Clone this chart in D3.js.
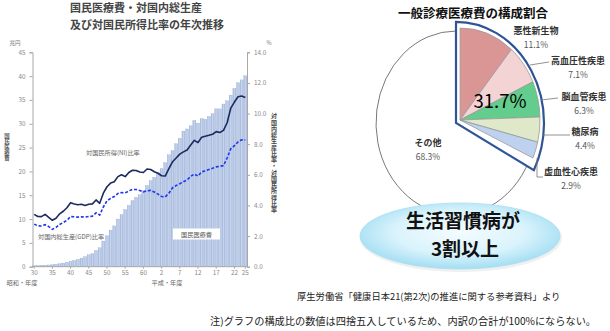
<!DOCTYPE html>
<html><head><meta charset="utf-8">
<script src="https://cdn.jsdelivr.net/npm/d3@7"></script>
<style>
body{margin:0;background:#fff}
svg{display:block}
text{font-family:"Noto Sans CJK JP","Noto Sans",sans-serif}
</style>
</head><body>
<svg id="c" width="610" height="331"></svg>
<script>
// ---------- left chart data ----------
const categories = ["S30","S31","S32","S33","S34","S35","S36","S37","S38","S39",
  "S40","S41","S42","S43","S44","S45","S46","S47","S48","S49",
  "S50","S51","S52","S53","S54","S55","S56","S57","S58","S59",
  "S60","S61","S62","S63",
  "H1","H2","H3","H4","H5","H6","H7","H8","H9","H10",
  "H11","H12","H13","H14","H15","H16","H17","H18","H19","H20",
  "H21","H22","H23","H24","H25"];
const expenditure = [0.24,0.26,0.29,0.32,0.36,0.41,0.51,0.61,0.75,0.94,
  1.12,1.31,1.52,1.80,2.08,2.50,2.73,3.39,3.96,5.38,
  6.48,7.68,8.56,10.00,10.95,11.98,12.88,13.87,14.54,15.09,
  16.02,17.07,18.08,18.76,
  19.73,20.61,21.83,23.48,24.36,25.79,26.96,28.45,28.91,29.58,
  30.70,30.14,31.10,30.95,31.54,32.11,33.13,33.13,34.14,34.81,
  36.01,37.42,38.59,39.21,40.06];
const ratioNI = [3.42,3.28,3.27,3.42,3.22,3.03,3.16,3.45,3.62,3.85,
  4.18,4.10,4.04,4.08,4.00,4.08,4.10,4.36,4.14,4.80,
  5.22,5.46,5.55,5.88,6.00,5.88,6.15,6.30,6.28,6.18,
  6.15,6.38,6.35,6.20,
  6.10,5.94,5.92,6.40,6.85,7.10,7.35,7.50,7.62,7.95,
  8.25,8.10,8.45,8.52,8.58,8.65,8.82,8.76,8.90,9.40,
  10.35,10.75,11.10,11.15,11.05];
const ratioGDP = [2.78,2.67,2.66,2.74,2.62,2.44,2.57,2.76,2.88,3.03,
  3.27,3.26,3.24,3.26,3.24,3.28,3.30,3.52,3.37,3.90,
  4.30,4.46,4.58,4.78,4.84,4.82,4.95,5.05,5.04,4.98,
  4.88,4.96,4.98,4.88,
  4.74,4.58,4.56,4.80,5.15,5.30,5.42,5.55,5.66,5.90,
  6.05,5.92,6.20,6.25,6.35,6.43,6.52,6.56,6.60,7.10,
  7.70,7.90,8.15,8.28,8.28];
const tickCats = ["S30","S35","S40","S45","S50","S55","S60","H2","H7","H12","H17","H22","H25"];
const tickText = ["30","35","40","45","50","55","60","2","7","12","17","22","25"];
const leftTicks = [0,5,10,15,20,25,30,35,40,45];
const rightTicks = [0,2,4,6,8,10,12,14];

// ---------- pie data ----------
const pieCats = ["悪性新生物","高血圧性疾患","脳血管疾患","糖尿病","虚血性心疾患","その他"];
const pieVals = [11.1,7.1,6.3,4.4,2.9,68.3];
const pieLabels = ["11.1%","7.1%","6.3%","4.4%","2.9%","68.3%"];
const pieColors = ["#d99695","#f3d3d4","#63cd8d","#dfe8c8","#bed1ee","#ffffff"];
const lifestyleShare = "31.7%";

const svg = d3.select("#c");
const defs = svg.append("defs");

// ================= LEFT CHART =================
const x = d3.scaleBand().domain(categories).range([32.5, 247]).paddingInner(0.18).paddingOuter(0.05);
const yL = d3.scaleLinear().domain([0,45]).range([266.7, 52.3]);
const yR = d3.scaleLinear().domain([0,14]).range([266.7, 52.3]);

svg.append("text").attr("x",70).attr("y",12).attr("font-size",11).attr("font-weight","bold")
  .attr("fill","#444").text("国民医療費・対国内総生産");
svg.append("text").attr("x",70).attr("y",29).attr("font-size",11).attr("font-weight","bold")
  .attr("fill","#444").text("及び対国民所得比率の年次推移");

// bars
const grad = defs.append("linearGradient").attr("id","bg").attr("x1","0").attr("x2","1");
grad.append("stop").attr("offset","0").attr("stop-color","#9fb4da");
grad.append("stop").attr("offset","0.45").attr("stop-color","#c9d6ee");
grad.append("stop").attr("offset","1").attr("stop-color","#a9bce0");

svg.append("g").selectAll("rect").data(expenditure).join("rect")
  .attr("x",(d,i)=>x(categories[i]))
  .attr("width",x.bandwidth())
  .attr("y",d=>yL(d))
  .attr("height",d=>yL(0)-yL(d))
  .attr("fill","url(#bg)")
  .attr("stroke","#93a8d0").attr("stroke-width",0.3);

// axes
const axL = svg.append("g").attr("transform","translate(32.5,0)")
  .call(d3.axisLeft(yL).tickValues(leftTicks).tickSize(3).tickPadding(4));
const axR = svg.append("g").attr("transform","translate(247,0)")
  .call(d3.axisRight(yR).tickValues(rightTicks).tickSize(3).tickPadding(4).tickFormat(d3.format(".1f")));
const axB = svg.append("g").attr("transform","translate(0,266.7)")
  .call(d3.axisBottom(x).tickValues(tickCats).tickSize(2).tickPadding(2).tickFormat((d)=>tickText[tickCats.indexOf(d)]));
[axL,axR,axB].forEach(a=>{
  a.select(".domain").attr("stroke","#a8a8a8");
  a.selectAll(".tick line").attr("stroke","#a8a8a8");
  a.selectAll(".tick text").attr("fill","#888").attr("font-size",6.3)
    .attr("font-family","'Noto Sans CJK JP',sans-serif");
});
axB.select(".domain").attr("d","M32.5,0H247");

// lines
const lineGen = d3.line().x((d,i)=>x(categories[i])+x.bandwidth()/2).y(d=>yR(d));
svg.append("path").datum(ratioNI).attr("d",lineGen).attr("fill","none")
  .attr("stroke","#1c2a60").attr("stroke-width",1.6).attr("stroke-linejoin","round");
svg.append("path").datum(ratioGDP).attr("d",lineGen).attr("fill","none")
  .attr("stroke","#1f35ee").attr("stroke-width",1.6).attr("stroke-dasharray","3,1.8");

// labels
svg.append("text").attr("x",15).attr("y",45).attr("font-size",5.5).attr("fill","#777").attr("text-anchor","middle").text("兆円");
svg.append("text").attr("x",269).attr("y",45).attr("font-size",5.5).attr("fill","#777").attr("text-anchor","middle").text("%");
svg.append("text").attr("x",86).attr("y",155).attr("font-size",6.2).attr("fill","#666").text("対国民所得(NI)比率");
svg.append("text").attr("x",38).attr("y",239).attr("font-size",6.2).attr("fill","#666").text("対国内総生産(GDP)比率");
svg.append("rect").attr("x",173).attr("y",228.5).attr("width",47).attr("height",11).attr("fill","#fff");
svg.append("text").attr("x",196.5).attr("y",236.5).attr("font-size",6.2).attr("fill","#555").attr("text-anchor","middle").text("国民医療費");
svg.append("text").attr("x",22).attr("y",285).attr("font-size",6.2).attr("fill","#666").attr("text-anchor","middle").text("昭和・年度");
svg.append("text").attr("x",167).attr("y",285).attr("font-size",6.2).attr("fill","#666").attr("text-anchor","middle").text("平成・年度");

// vertical (upright, stacked) text: one text element rotated 90°, glyphs rotated back
function vtext(str, xCenter, yTop, size, spacing, fill){
  svg.append("text")
    .attr("transform",`translate(${xCenter - size/2},${yTop + size*0.88}) rotate(90)`)
    .attr("x",0).attr("y",0).attr("rotate","-90")
    .attr("font-size",size).attr("letter-spacing",spacing)
    .attr("fill",fill).attr("font-weight","bold").text(str);
}
vtext("国民医療費", 7, 133, 5.4, 0.2, "#555");
vtext("対国内総生産比率・対国民所得比率", 274, 113, 6, 0.25, "#444");

// ================= PIE =================
svg.append("text").attr("x",473).attr("y",18).attr("font-size",12.5).attr("font-weight","bold")
  .attr("fill","#111").attr("text-anchor","middle").text("一般診療医療費の構成割合");

const cx = 456, cy = 123, rx = 80, ry = 92;
const pie = d3.pie().sort(null).value(d=>d)(pieVals);
const groupEnd = pie[4].endAngle;
const mid = groupEnd/2;
const off = 0.06;
const arc = d3.arc().innerRadius(0).outerRadius(1);
const pg = svg.append("g").attr("transform",`translate(${cx},${cy}) scale(${rx},${ry})`);
pg.append("path").attr("d",arc(pie[5])).attr("fill","#fff").attr("stroke","#555")
  .attr("stroke-width",0.8).attr("vector-effect","non-scaling-stroke");
pg.append("path").attr("d",d3.arc().innerRadius(0).outerRadius(1.1)({startAngle:0,endAngle:groupEnd+0.06}))
  .attr("fill","#fff").attr("stroke","#2f5597").attr("stroke-width",2.2).attr("vector-effect","non-scaling-stroke");
pg.append("g").attr("transform",`translate(${off*Math.sin(mid)},${-off*Math.cos(mid)})`)
  .selectAll("path").data(pie.slice(0,5)).join("path")
  .attr("d",arc).attr("fill",(d,i)=>pieColors[i]).attr("stroke","#999")
  .attr("stroke-width",0.8).attr("vector-effect","non-scaling-stroke");

svg.append("text").attr("x",500).attr("y",108).attr("font-size",18.5)
  .attr("font-family","'Liberation Sans',Arial,sans-serif").attr("fill","#000")
  .attr("text-anchor","middle").text(lifestyleShare);

const leaders = [
  [[530,65],[549,62]],
  [[541,100],[558,98]],
  [[542,135],[570,135]],
  [[537,158],[537,177],[543,177]]
];
leaders.forEach(p=>svg.append("path").attr("d",d3.line()(p)).attr("fill","none").attr("stroke","#777").attr("stroke-width",0.8));

const labelPos = [[536,31],[578,61],[584,97],[585,132],[571,172],[428,143]];
pieCats.forEach((c,i)=>{
  const [lx,ly] = labelPos[i];
  svg.append("text").attr("x",lx).attr("y",ly+3).attr("font-size",9).attr("font-weight","bold")
    .attr("fill","#333").attr("text-anchor","middle").text(c);
  svg.append("text").attr("x",lx).attr("y",ly+17).attr("font-size",8.5)
    .attr("fill","#555").attr("text-anchor","middle").text(pieLabels[i]);
});

// callout
const rg = defs.append("radialGradient").attr("id","cg").attr("cx","0.5").attr("cy","0.45").attr("r","0.6");
rg.append("stop").attr("offset","0").attr("stop-color","#f4fcff");
rg.append("stop").attr("offset","0.55").attr("stop-color","#d9f3fc");
rg.append("stop").attr("offset","1").attr("stop-color","#97d9f0");
svg.append("ellipse").attr("cx",461).attr("cy",238).attr("rx",101).attr("ry",34)
  .attr("fill","#e2e2e2").attr("opacity",0.5);
svg.append("ellipse").attr("cx",460).attr("cy",236).attr("rx",100).attr("ry",33)
  .attr("fill","url(#cg)").attr("stroke","#a8def2").attr("stroke-width",0.8);
svg.append("text").attr("x",463).attr("y",228).attr("font-size",19).attr("font-weight","bold")
  .attr("fill","#111").attr("text-anchor","middle").text("生活習慣病が");
svg.append("text").attr("x",465).attr("y",256).attr("font-size",19).attr("font-weight","bold")
  .attr("fill","#111").attr("text-anchor","middle").text("3割以上");

// footnotes
svg.append("text").attr("x",297).attr("y",300).attr("font-size",9.3).attr("fill","#222")
  .text("厚生労働省「健康日本21(第2次)の推進に関する参考資料」より");
svg.append("text").attr("x",210).attr("y",325).attr("font-size",10.2).attr("fill","#222")
  .text("注)グラフの構成比の数値は四捨五入しているため、内訳の合計が100%にならない。");
</script>
</body></html>
